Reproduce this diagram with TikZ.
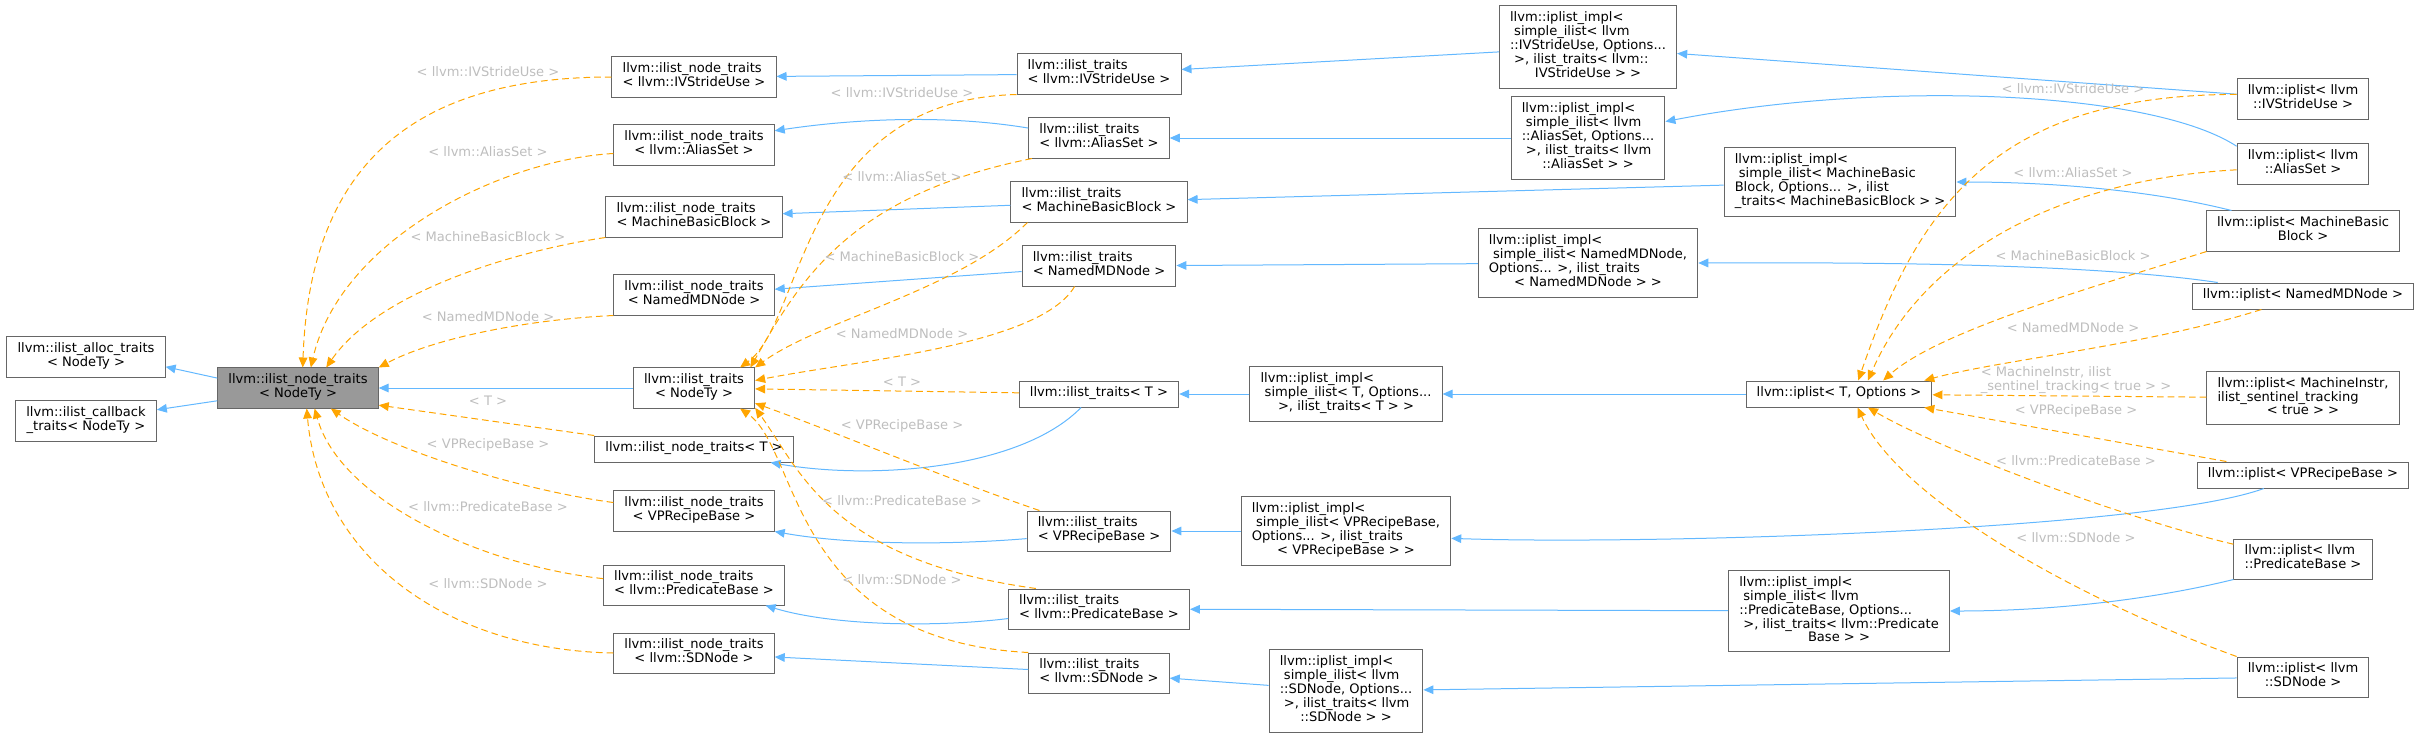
\documentclass[tikz,border=0pt]{standalone}
\usepackage{fontspec}
\setmainfont{DejaVu Sans}
\usetikzlibrary{arrows.meta}
\definecolor{edgeblue}{HTML}{63B8FF}
\definecolor{edgeorange}{HTML}{FFA500}
\definecolor{boxgray}{HTML}{666666}
\definecolor{focusgray}{HTML}{999999}
\definecolor{lblgray}{HTML}{BEBEBE}
\newcommand{\dfont}{\fontsize{9.8}{10.2}\selectfont}
\newcommand{\oline}[1]{\begin{tabular}{@{}c@{}}#1\end{tabular}}
\newcommand{\mlines}[2]{\begin{tabular}{@{}l@{}}#1\\\multicolumn{1}{@{}c@{}}{#2}\end{tabular}}
\begin{document}
\begin{tikzpicture}[x=0.75pt, y=-0.75pt, >={Triangle[length=7.5pt,width=6.5pt]},
  cls/.style={draw=boxgray, fill=white, line width=0.75pt, inner xsep=8pt, inner ysep=4.5pt, font=\dfont},
  focus/.style={cls, fill=focusgray},
  inh/.style={->, draw=edgeblue, line width=0.75pt},
  tmpl/.style={->, draw=edgeorange, line width=0.75pt, dash pattern=on 5pt off 3pt},
  lbl/.style={text=lblgray, font=\dfont, inner sep=0pt}]
\useasboundingbox (0,0) rectangle (2427,739);

% base classes
\node[cls] (alloc) at (86,357) {\mlines{llvm::ilist\_alloc\_traits}{< NodeTy >}};
\node[cls] (cb) at (86,421) {\mlines{llvm::ilist\_callback}{\_traits< NodeTy >}};
\node[focus] (nt) at (298,388) {\mlines{llvm::ilist\_node\_traits}{< NodeTy >}};

% ilist_node_traits instances
\node[cls] (ntivs) at (694,77) {\mlines{llvm::ilist\_node\_traits}{< llvm::IVStrideUse >}};
\node[cls] (ntas) at (694,145) {\mlines{llvm::ilist\_node\_traits}{< llvm::AliasSet >}};
\node[cls] (ntmbb) at (694,217) {\mlines{llvm::ilist\_node\_traits}{< MachineBasicBlock >}};
\node[cls] (ntnmd) at (694,295) {\mlines{llvm::ilist\_node\_traits}{< NamedMDNode >}};
\node[cls] (tr) at (694,388) {\mlines{llvm::ilist\_traits}{< NodeTy >}};
\node[cls] (ntT) at (694,449) {\oline{llvm::ilist\_node\_traits< T >}};
\node[cls] (ntvp) at (694,511) {\mlines{llvm::ilist\_node\_traits}{< VPRecipeBase >}};
\node[cls] (ntpb) at (694,585) {\mlines{llvm::ilist\_node\_traits}{< llvm::PredicateBase >}};
\node[cls] (ntsd) at (694,653) {\mlines{llvm::ilist\_node\_traits}{< llvm::SDNode >}};

% ilist_traits instances
\node[cls] (trivs) at (1099,74) {\mlines{llvm::ilist\_traits}{< llvm::IVStrideUse >}};
\node[cls] (tras) at (1099,138) {\mlines{llvm::ilist\_traits}{< llvm::AliasSet >}};
\node[cls] (trmbb) at (1099,202) {\mlines{llvm::ilist\_traits}{< MachineBasicBlock >}};
\node[cls] (trnmd) at (1099,266) {\mlines{llvm::ilist\_traits}{< NamedMDNode >}};
\node[cls] (trT) at (1099,394) {\oline{llvm::ilist\_traits< T >}};
\node[cls] (trvp) at (1099,531) {\mlines{llvm::ilist\_traits}{< VPRecipeBase >}};
\node[cls] (trpb) at (1099,609) {\mlines{llvm::ilist\_traits}{< llvm::PredicateBase >}};
\node[cls] (trsd) at (1099,673) {\mlines{llvm::ilist\_traits}{< llvm::SDNode >}};

% iplist_impl
\node[cls] (imivs) at (1588,47) {\mlines{llvm::iplist\_impl<\\\ simple\_ilist< llvm\\::IVStrideUse, Options...\\\ >, ilist\_traits< llvm::}{IVStrideUse > >}};
\node[cls] (imas) at (1588,138) {\mlines{llvm::iplist\_impl<\\\ simple\_ilist< llvm\\::AliasSet, Options...\\\ >, ilist\_traits< llvm}{::AliasSet > >}};
\node[cls] (immbb) at (1840,182) {\mlines{llvm::iplist\_impl<\\\ simple\_ilist< MachineBasic\\Block, Options... >, ilist}{\_traits< MachineBasicBlock > >}};
\node[cls] (imnmd) at (1588,263) {\mlines{llvm::iplist\_impl<\\\ simple\_ilist< NamedMDNode,\\Options... >, ilist\_traits}{< NamedMDNode > >}};
\node[cls] (imT) at (1346,394) {\mlines{llvm::iplist\_impl<\\\ simple\_ilist< T, Options...}{>, ilist\_traits< T > >}};
\node[cls] (imvp) at (1346,531) {\mlines{llvm::iplist\_impl<\\\ simple\_ilist< VPRecipeBase,\\Options... >, ilist\_traits}{< VPRecipeBase > >}};
\node[cls] (impb) at (1839,611) {\mlines{llvm::iplist\_impl<\\\ simple\_ilist< llvm\\::PredicateBase, Options...\\\ >, ilist\_traits< llvm::Predicate}{Base > >}};
\node[cls] (imsd) at (1346,691) {\mlines{llvm::iplist\_impl<\\\ simple\_ilist< llvm\\::SDNode, Options...\\\ >, ilist\_traits< llvm}{::SDNode > >}};

% iplist
\node[cls] (ip) at (1839,394) {\oline{llvm::iplist< T, Options >}};
\node[cls] (ipivs) at (2303,99) {\mlines{llvm::iplist< llvm}{::IVStrideUse >}};
\node[cls] (ipas) at (2303,164) {\mlines{llvm::iplist< llvm}{::AliasSet >}};
\node[cls] (ipmbb) at (2303,231) {\mlines{llvm::iplist< MachineBasic}{Block >}};
\node[cls] (ipnmd) at (2303,296) {\oline{llvm::iplist< NamedMDNode >}};
\node[cls] (ipmi) at (2303,398) {\mlines{llvm::iplist< MachineInstr,\\ilist\_sentinel\_tracking}{< true > >}};
\node[cls] (ipvp) at (2303,475) {\oline{llvm::iplist< VPRecipeBase >}};
\node[cls] (ippb) at (2303,559) {\mlines{llvm::iplist< llvm}{::PredicateBase >}};
\node[cls] (ipsd) at (2303,677) {\mlines{llvm::iplist< llvm}{::SDNode >}};

% inheritance
\draw[inh] (nt.173) -- (alloc.-7);
\draw[inh] (nt.-171) -- (cb.9);
\draw[inh] (tr) -- (nt);
\draw[inh] (trivs) -- (ntivs);
\draw[inh] (tras.172) .. controls (950,115) and (860,118) .. (ntas.10);
\draw[inh] (trmbb) -- (ntmbb);
\draw[inh] (trnmd) -- (ntnmd);
\draw[inh] (trT.-143) .. controls (1020,470) and (870,480) .. (ntT.-10);
\draw[inh] (trvp.186) .. controls (950,545) and (850,545) .. (ntvp.south east);
\draw[inh] (trpb.186) .. controls (930,628) and (830,625) .. (ntpb.-16);
\draw[inh] (trsd) -- (ntsd);
\draw[inh] (imivs) -- (trivs);
\draw[inh] (imas) -- (tras);
\draw[inh] (immbb) -- (trmbb);
\draw[inh] (imnmd) -- (trnmd);
\draw[inh] (imT) -- (trT);
\draw[inh] (imvp) -- (trvp);
\draw[inh] (impb) -- (trpb);
\draw[inh] (imsd) -- (trsd);
\draw[inh] (ipivs) -- (imivs);
\draw[inh] (ipas.165) .. controls (2150,90) and (1880,80) .. (imas.12);
\draw[inh] (ipmbb.164) .. controls (2150,190) and (2050,182) .. (immbb.east);
\draw[inh] (ipnmd.171) .. controls (2100,265) and (1900,262) .. (imnmd.east);
\draw[inh] (ip) -- (imT);
\draw[inh] (ipvp.-161) .. controls (2150,530) and (1650,545) .. (imvp.-4);
\draw[inh] (ippb.south west) .. controls (2150,600) and (2050,611) .. (impb.east);
\draw[inh] (ipsd) -- (imsd);

% template instances
\draw[tmpl] (ntivs.west) .. controls (430,77) and (310,150) .. (nt.77);
\draw[tmpl] (ntas.186) .. controls (500,160) and (340,240) .. (nt.58);
\draw[tmpl] (ntmbb.south west) .. controls (520,250) and (380,290) .. (nt.36);
\draw[tmpl] (ntnmd.south west) .. controls (520,320) and (430,340) .. (nt.north east);
\draw[tmpl] (ntT.north west) -- (nt.-12);
\draw[tmpl] (ntvp.174) .. controls (520,490) and (390,450) .. (nt.-32);
\draw[tmpl] (ntpb.176) .. controls (480,565) and (340,500) .. (nt.-51);
\draw[tmpl] (ntsd.west) .. controls (450,650) and (320,560) .. (nt.-67);

\draw[tmpl] (trivs.south west) .. controls (800,100) and (805,320) .. (tr.24);
\draw[tmpl] (tras.-163) .. controls (850,195) and (800,280) .. (tr.20);
\draw[tmpl] (trmbb.-164) .. controls (960,290) and (820,320) .. (tr.north east);
\draw[tmpl] (trnmd.-140) .. controls (1040,345) and (860,360) .. (tr.7);
\draw[tmpl] (trT) -- (tr);
\draw[tmpl] (trvp.161) .. controls (950,480) and (830,430) .. (tr.-14);
\draw[tmpl] (trpb.162) .. controls (830,560) and (800,470) .. (tr.-18);
\draw[tmpl] (trsd.north west) .. controls (790,640) and (800,450) .. (tr.-24);

\draw[tmpl] (ipivs.176) .. controls (2000,95) and (1920,200) .. (ip.35);
\draw[tmpl] (ipas.185) .. controls (2050,180) and (1920,260) .. (ip.25);
\draw[tmpl] (ipmbb.-168) .. controls (2100,285) and (1940,330) .. (ip.17);
\draw[tmpl] (ipnmd.-162) .. controls (2150,345) and (2000,360) .. (ip.9);
\draw[tmpl] (ipmi) -- (ip);
\draw[tmpl] (ipvp.170) -- (ip.-9);
\draw[tmpl] (ippb.168) .. controls (2130,520) and (1940,450) .. (ip.-25);
\draw[tmpl] (ipsd.north west) .. controls (2080,600) and (1900,500) .. (ip.-36);

% edge labels
\node[lbl] (la1) at (488,72) {< llvm::IVStrideUse >};
\node[lbl] (la2) at (488,152) {< llvm::AliasSet >};
\node[lbl] (la3) at (488,237) {< MachineBasicBlock >};
\node[lbl] (la4) at (488,317) {< NamedMDNode >};
\node[lbl] (la5) at (488,401) {< T >};
\node[lbl] (la6) at (488,445) {< VPRecipeBase >};
\node[lbl] (la7) at (488,507) {< llvm::PredicateBase >};
\node[lbl] (la8) at (488,584) {< llvm::SDNode >};

\node[lbl] (lb1) at (902,93) {< llvm::IVStrideUse >};
\node[lbl] (lb2) at (902,177) {< llvm::AliasSet >};
\node[lbl] (lb3) at (902,257) {< MachineBasicBlock >};
\node[lbl] (lb4) at (902,334) {< NamedMDNode >};
\node[lbl] (lb5) at (902,382) {< T >};
\node[lbl] (lb6) at (902,426) {< VPRecipeBase >};
\node[lbl] (lb7) at (902,501) {< llvm::PredicateBase >};
\node[lbl] (lb8) at (902,580) {< llvm::SDNode >};

\node[lbl] (lc1) at (2073,89) {< llvm::IVStrideUse >};
\node[lbl] (lc2) at (2073,173) {< llvm::AliasSet >};
\node[lbl] (lc3) at (2073,256) {< MachineBasicBlock >};
\node[lbl] (lc4) at (2073,328) {< NamedMDNode >};
\node[lbl] (lc5) at (2076,381) {\mlines{< MachineInstr, ilist}{\_sentinel\_tracking< true > >}};
\node[lbl] (lc6) at (2076,411) {< VPRecipeBase >};
\node[lbl] (lc7) at (2076,461) {< llvm::PredicateBase >};
\node[lbl] (lc8) at (2076,538) {< llvm::SDNode >};
\end{tikzpicture}
\end{document}
